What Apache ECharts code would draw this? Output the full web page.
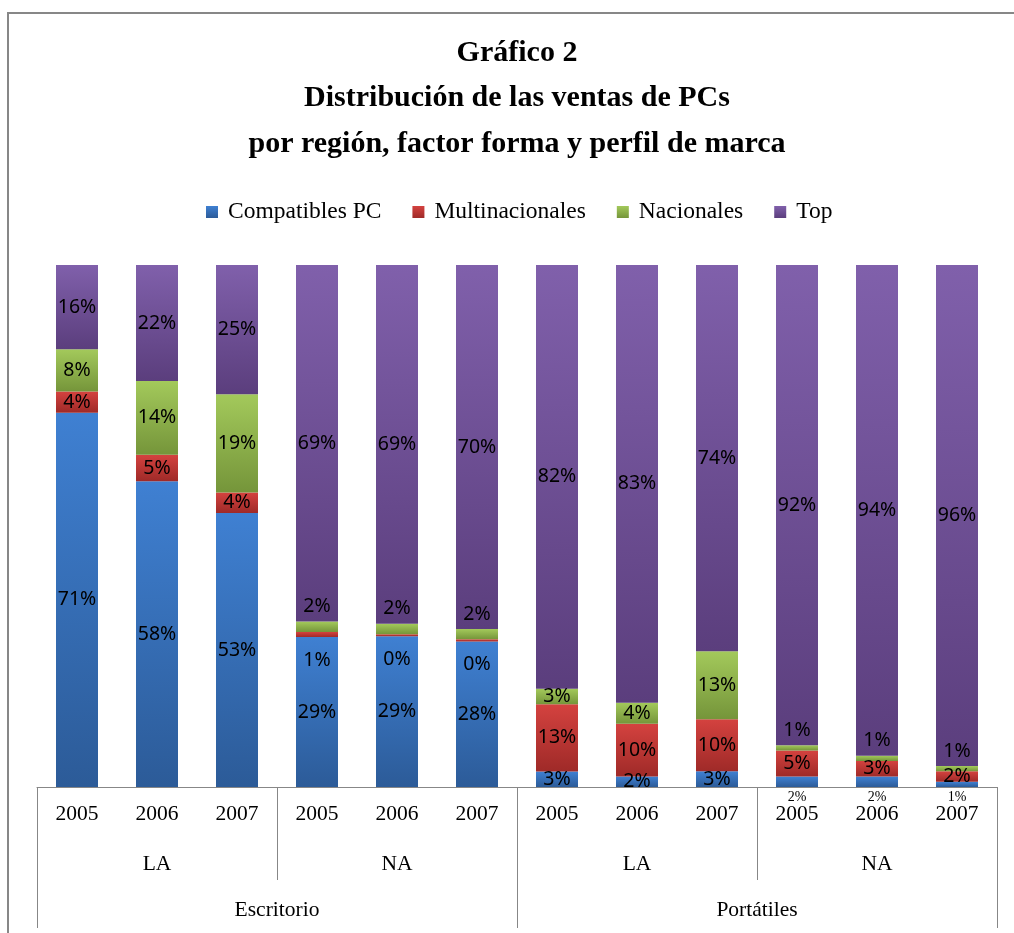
<!DOCTYPE html>
<html>
<head>
<meta charset="utf-8">
<script src="https://cdn.jsdelivr.net/npm/echarts@6/dist/echarts.min.js"></script>
<style>
html,body{margin:0;padding:0;background:#fff;}
#chart{width:1014px;height:933px;}
</style>
</head>
<body>
<div id="chart"></div>
<script>
// ---- data ----
var titleLines = ['Gráfico 2','Distribución de las ventas de PCs','por región, factor forma y perfil de marca'];
var years = ['2005','2006','2007','2005','2006','2007','2005','2006','2007','2005','2006','2007'];
var regions = ['LA','NA','LA','NA'];
var forms = ['Escritorio','Portátiles'];
var seriesNames = ['Compatibles PC','Multinacionales','Nacionales','Top'];
var compatibles = [71,58,53,29,29,28,3,2,3,2,2,1];
var multinacionales = [4,5,4,1,0.4,0.4,13,10,10,5,3,2];
var nacionales = [8,14,19,2,2,2,3,4,13,1,1,1];
var top_ = [16,22,25,69,69,70,82,83,74,92,94,96];

var raw = [compatibles, multinacionales, nacionales, top_];
var totals = years.map(function(_, i){ return raw.reduce(function(s,a){return s+a[i];},0); });

var grads = [
  ['#3f80d2','#2c5b98'],
  ['#d4423f','#9f2a28'],
  ['#a3c95b','#75953a'],
  ['#8060ab','#5b3e7d']
];

// label placement tweaks (like the reference's manually moved labels)
function labelFor(s, i){
  if (s === 1 && i >= 3 && i <= 5) return {position:'bottom', distance:13};
  if (s === 2 && ((i >= 3 && i <= 5) || i >= 9)) return {position:'top', distance:5};
  if (s === 0 && i >= 9) return {position:'bottom', distance:3, fontSize:14, fontFamily:'Liberation Serif'};
  return null;
}

var series = raw.map(function(arr, s){
  return {
    name: seriesNames[s],
    type: 'bar',
    stack: 'total',
    barWidth: 42,
    itemStyle: {
      color: new echarts.graphic.LinearGradient(0,0,0,1,[{offset:0,color:grads[s][0]},{offset:1,color:grads[s][1]}])
    },
    label: {
      show: true,
      position: 'inside',
      fontFamily: 'Noto Sans',
      fontSize: 19.5,
      color: '#000',
      formatter: function(p){ return Math.round(arr[p.dataIndex]) + '%'; }
    },
    data: arr.map(function(v, i){
      var item = {value: v / totals[i] * 100};
      var l = labelFor(s, i);
      if (l) item.label = l;
      return item;
    })
  };
});

var chart = echarts.init(document.getElementById('chart'), null, {renderer:'canvas'});
var axisColor = '#878787';
var graphics = [{
  type:'rect', shape:{x:8, y:13, width:1040, height:960},
  style:{fill:null, stroke:axisColor, lineWidth:2}, silent:true
}];
titleLines.forEach(function(t, k){
  graphics.push({
    type:'text', x:517, y:53 + k*45.5, silent:true,
    style:{text:t, textAlign:'center', textVerticalAlign:'middle',
      font:'bold 30px "Liberation Serif"', fill:'#000'}
  });
});

chart.setOption({
  animation: false,
  backgroundColor: '#fff',
  legend: {
    top: 195,
    left: 201,
    icon: 'rect',
    itemWidth: 12,
    itemHeight: 12,
    itemGap: 31,
    textStyle: {fontFamily:'Liberation Serif', fontSize:23.5, color:'#000', padding:[0,0,0,5]},
    data: seriesNames
  },
  grid: {left:37, right:17, top:265, bottom:146},
  xAxis: [
    {type:'category', data: years, position:'bottom',
      axisLine:{lineStyle:{color:axisColor,width:1}}, axisTick:{show:false},
      axisLabel:{fontFamily:'Liberation Serif', fontSize:21.5, color:'#000', margin:16}},
    {type:'category', data: regions, position:'bottom',
      axisLine:{show:false}, axisTick:{show:true,length:93,lineStyle:{color:axisColor,width:1}},
      axisLabel:{fontFamily:'Liberation Serif', fontSize:21.5, color:'#000', margin:66}},
    {type:'category', data: forms, position:'bottom',
      axisLine:{show:false}, axisTick:{show:true,length:141,lineStyle:{color:axisColor,width:1}},
      axisLabel:{fontFamily:'Liberation Serif', fontSize:21.5, color:'#000', margin:112}}
  ],
  yAxis: {type:'value', min:0, max:100, show:false},
  graphic: graphics,
  series: series
});
</script>
</body>
</html>
